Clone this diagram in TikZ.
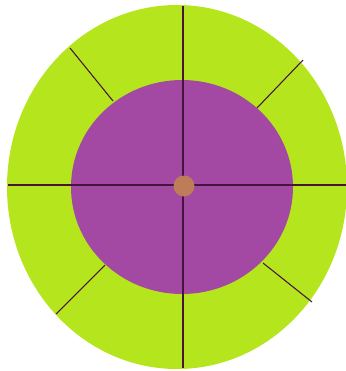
\documentclass[tikz,border=0pt]{standalone}
\usepackage{xcolor}
\usetikzlibrary{calc}
\definecolor{limegreen}{RGB}{181,230,29}
\definecolor{paintpurple}{RGB}{163,73,164}
\definecolor{hubbrown}{RGB}{190,125,88}
\definecolor{spokedark}{RGB}{70,20,60}

\begin{document}
\begin{tikzpicture}[
  x=0.75pt,y=-0.75pt,
  spoke/.style={draw=spokedark,line width=0.8pt},
  inspoke/.style={draw=spokedark,line width=1.1pt}
]
\useasboundingbox (0,0) rectangle (346,371);

% ---- rings ----
\fill[limegreen] (177,187) ellipse [x radius=170,y radius=182];
\fill[paintpurple] (182,187) ellipse [x radius=111,y radius=107];

% ---- outer spokes ----
\draw[spoke] (70,48) -- (113,101);
\draw[spoke] (303,60) -- (257,108);
\draw[spoke] (56,314) -- (105,265);
\draw[spoke] (312,302) -- (263,263);

% ---- cross ----
\draw[inspoke] (8,185) -- (346,185);
\draw[inspoke] (183,6) -- (183,368);

% ---- hub ----
\fill[hubbrown] (184,186) circle [radius=10.5];

\end{tikzpicture}
\end{document}
